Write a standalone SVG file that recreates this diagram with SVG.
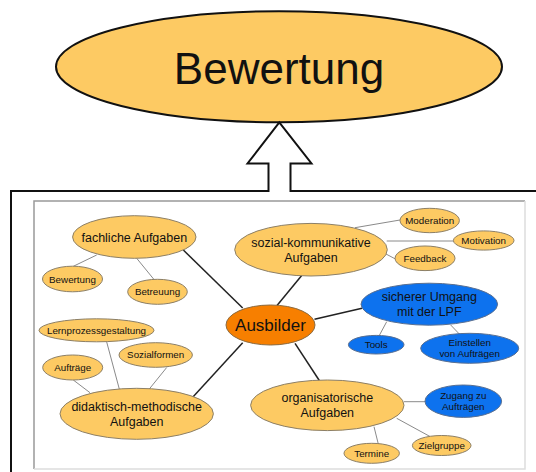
<svg xmlns="http://www.w3.org/2000/svg" width="536" height="472" viewBox="0 0 536 472">
<style>
text{font-family:"Liberation Sans",Arial,sans-serif;text-anchor:middle;fill:#111}
.y{fill:#FDCA63;stroke:#8c7f66;stroke-width:1}
.b{fill:#0D72EE;stroke:#5a6f90;stroke-width:1}
.o{fill:#F77F00;stroke:#8a6a40;stroke-width:1}
.m{font-size:12.5px}
.s{font-size:9.8px}
.dk{stroke:#222;stroke-width:1.5;fill:none}
.gr{stroke:#8a8a8a;stroke-width:1;fill:none}
</style>
<rect width="536" height="472" fill="#fff"/>
<g id="bewertung-top">
<ellipse cx="279" cy="66.7" rx="223" ry="55.5" fill="#FDCA63" stroke="#111" stroke-width="2"/>
<text x="279" y="83.5" style="font-size:44px">Bewertung</text>
</g>
<g id="frame-arrow">
<path d="M11,474 V191 H268.5 V163.5 H247.5 L279.3,122.5 L311.5,163.5 H290.5 V191 H540" fill="none" stroke="#111" stroke-width="2"/>
</g>
<g id="inner-frame">
<rect x="34" y="201" width="491" height="268" fill="#fff" stroke="none"/>
<path d="M34,469 V201 H525" fill="none" stroke="#999" stroke-width="1.5"/>
<path d="M525,201 V469 H34" fill="none" stroke="#ddd" stroke-width="1.5"/>
</g>
<g id="connectors">
<line class="dk" x1="183.3" y1="250" x2="242.7" y2="308"/>
<line class="dk" x1="301.7" y1="275.5" x2="277" y2="305.5"/>
<line class="dk" x1="314.5" y1="319.3" x2="362" y2="308.3"/>
<line class="dk" x1="295" y1="343.3" x2="319.3" y2="380.5"/>
<line class="dk" x1="242.7" y1="342.7" x2="192.7" y2="397.3"/>
<line class="gr" x1="96.7" y1="255" x2="73.3" y2="266.3"/>
<line class="gr" x1="136.7" y1="258.3" x2="154" y2="279.5"/>
<line class="gr" x1="355" y1="227.7" x2="400" y2="220"/>
<line class="gr" x1="386.7" y1="241" x2="454" y2="241"/>
<line class="gr" x1="386" y1="254" x2="396" y2="259.3"/>
<line class="gr" x1="386.7" y1="321.7" x2="379" y2="336"/>
<line class="gr" x1="450.7" y1="325" x2="459.3" y2="334"/>
<line class="gr" x1="404" y1="401.7" x2="425" y2="401.7"/>
<line class="gr" x1="374" y1="426.7" x2="378.3" y2="444"/>
<line class="gr" x1="396.7" y1="418.3" x2="430" y2="436.5"/>
<line class="gr" x1="73.3" y1="380" x2="90" y2="392.7"/>
<line class="gr" x1="106.7" y1="342" x2="119.3" y2="389"/>
<line class="gr" x1="166.7" y1="367.5" x2="149.3" y2="389"/>
</g>
<g id="fachliche">
<ellipse class="y" cx="134.3" cy="237" rx="61.7" ry="21.3"/>
<text class="m" x="134.3" y="241.5">fachliche Aufgaben</text>
</g>
<g id="bewertung">
<ellipse class="y" cx="72.5" cy="279" rx="30" ry="12.8"/>
<text class="s" x="72.5" y="282.5">Bewertung</text>
</g>
<g id="betreuung">
<ellipse class="y" cx="157.5" cy="291.8" rx="29.8" ry="12.5"/>
<text class="s" x="157.5" y="295.2">Betreuung</text>
</g>
<g id="sozial">
<ellipse class="y" cx="311" cy="249.7" rx="76.3" ry="26.3"/>
<text class="m" x="311" y="246.7">sozial-kommunikative</text>
<text class="m" x="311" y="261.7">Aufgaben</text>
</g>
<g id="moderation">
<ellipse class="y" cx="429.7" cy="220.5" rx="29.7" ry="12.2"/>
<text class="s" x="429.7" y="223.8">Moderation</text>
</g>
<g id="motivation">
<ellipse class="y" cx="483.7" cy="240.5" rx="30.3" ry="9.6"/>
<text class="s" x="483.7" y="243.8">Motivation</text>
</g>
<g id="feedback">
<ellipse class="y" cx="425" cy="258.3" rx="30" ry="12.3"/>
<text class="s" x="425" y="261.6">Feedback</text>
</g>
<g id="ausbilder">
<ellipse class="o" cx="270.5" cy="325" rx="44.5" ry="20"/>
<text x="270.5" y="331" style="font-size:17px">Ausbilder</text>
</g>
<g id="lpf">
<ellipse class="b" cx="429.3" cy="304.2" rx="68.3" ry="21"/>
<text class="m" x="429.3" y="300.7">sicherer Umgang</text>
<text class="m" x="429.3" y="316">mit der LPF</text>
</g>
<g id="tools">
<ellipse class="b" cx="376.2" cy="344.7" rx="27.8" ry="9.3"/>
<text class="s" x="376.2" y="348">Tools</text>
</g>
<g id="einstellen">
<ellipse class="b" cx="469.7" cy="348.3" rx="49" ry="15"/>
<text class="s" x="469.7" y="346">Einstellen</text>
<text class="s" x="469.7" y="357.3">von Aufträgen</text>
</g>
<g id="organisatorische">
<ellipse class="y" cx="327.3" cy="405.3" rx="76.7" ry="25.3"/>
<text class="m" x="327.3" y="401.7">organisatorische</text>
<text class="m" x="327.3" y="417.3">Aufgaben</text>
</g>
<g id="zugang">
<ellipse class="b" cx="463.3" cy="401.2" rx="38.3" ry="16.2"/>
<text class="s" x="463.3" y="399.3">Zugang zu</text>
<text class="s" x="463.3" y="410.3">Aufträgen</text>
</g>
<g id="zielgruppe">
<ellipse class="y" cx="441.7" cy="445.5" rx="29.3" ry="10"/>
<text class="s" x="441.7" y="448.6">Zielgruppe</text>
</g>
<g id="termine">
<ellipse class="y" cx="371.7" cy="453.3" rx="27.7" ry="10"/>
<text class="s" x="371.7" y="456.6">Termine</text>
</g>
<g id="lernprozess">
<ellipse class="y" cx="96.5" cy="330.3" rx="57.5" ry="11.5"/>
<text class="s" x="96.5" y="333.5">Lernprozessgestaltung</text>
</g>
<g id="sozialformen">
<ellipse class="y" cx="155.7" cy="355" rx="36.7" ry="12.3"/>
<text class="s" x="155.7" y="358.3">Sozialformen</text>
</g>
<g id="auftraege">
<ellipse class="y" cx="72.7" cy="367.5" rx="30" ry="12.5"/>
<text class="s" x="72.7" y="370.8">Aufträge</text>
</g>
<g id="didaktisch">
<ellipse class="y" cx="136.7" cy="413.8" rx="76.7" ry="25.5"/>
<text class="m" x="136.7" y="411">didaktisch-methodische</text>
<text class="m" x="136.7" y="426">Aufgaben</text>
</g>
</svg>
